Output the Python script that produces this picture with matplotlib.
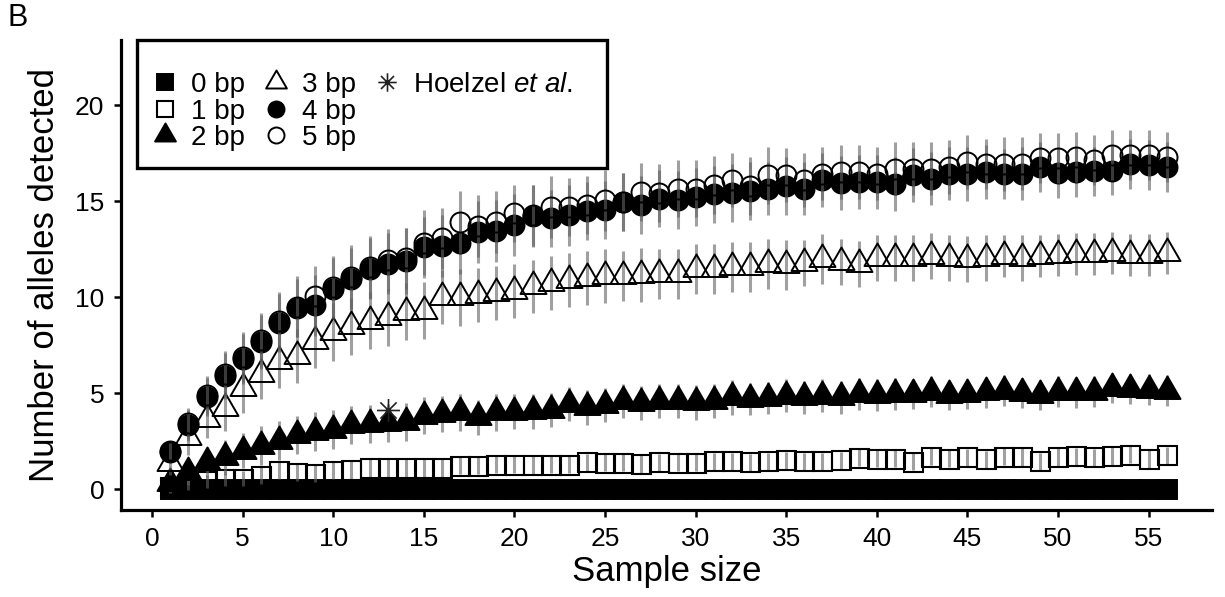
import matplotlib
matplotlib.use("Agg")
import matplotlib.pyplot as plt
from matplotlib.path import Path
from matplotlib.patches import Rectangle
from matplotlib.lines import Line2D

plt.rcParams['font.family'] = ['Liberation Sans', 'DejaVu Sans']
plt.rcParams['mathtext.fontset'] = 'custom'
plt.rcParams['mathtext.rm'] = 'Liberation Sans'
plt.rcParams['mathtext.it'] = 'Liberation Sans:italic'

# ---------------- data ----------------
sample_size = [1, 2, 3, 4, 5, 6, 7, 8, 9, 10, 11, 12, 13, 14, 15, 16, 17, 18, 19, 20,
               21, 22, 23, 24, 25, 26, 27, 28, 29, 30, 31, 32, 33, 34, 35, 36, 37, 38, 39, 40,
               41, 42, 43, 44, 45, 46, 47, 48, 49, 50, 51, 52, 53, 54, 55, 56]

bp0 = [0, 0, 0, 0, 0, 0, 0, 0, 0, 0, 0, 0, 0, 0, 0, 0, 0, 0, 0, 0,
       0, 0, 0, 0, 0, 0, 0, 0, 0, 0, 0, 0, 0, 0, 0, 0, 0, 0, 0, 0,
       0, 0, 0, 0, 0, 0, 0, 0, 0, 0, 0, 0, 0, 0, 0, 0]
bp1 = [0.10, 0.25, 0.40, 0.55, 0.55, 0.70, 0.95, 0.85, 0.80, 0.95, 1.00, 1.10, 1.10, 1.10,
       1.10, 1.10, 1.22, 1.22, 1.27, 1.27, 1.25, 1.27, 1.27, 1.40, 1.37, 1.37, 1.30, 1.40,
       1.37, 1.37, 1.45, 1.45, 1.40, 1.45, 1.50, 1.45, 1.45, 1.50, 1.64, 1.58, 1.58, 1.43,
       1.68, 1.58, 1.65, 1.55, 1.68, 1.67, 1.45, 1.67, 1.70, 1.65, 1.72, 1.80, 1.57, 1.75]
bp2 = [0.32, 0.91, 1.40, 1.65, 2.00, 2.27, 2.53, 2.82, 3.00, 3.10, 3.35, 3.38, 3.45, 3.50,
       3.83, 3.91, 4.00, 3.74, 4.00, 4.04, 4.05, 4.12, 4.43, 4.26, 4.38, 4.60, 4.48, 4.60,
       4.60, 4.52, 4.60, 4.78, 4.69, 4.75, 4.87, 4.78, 4.87, 4.78, 4.96, 4.90, 4.96, 4.96,
       5.08, 4.90, 4.96, 5.05, 5.13, 5.00, 4.90, 5.08, 5.05, 5.08, 5.27, 5.22, 5.18, 5.13]
bp3 = [1.35, 2.70, 3.65, 4.25, 5.25, 6.00, 6.69, 6.92, 7.73, 8.17, 8.48, 8.78, 8.95, 9.25,
       9.30, 9.99, 9.99, 10.10, 10.20, 10.34, 10.56, 10.73, 10.89, 11.00, 11.12, 11.12, 11.15, 11.20,
       11.20, 11.46, 11.46, 11.59, 11.59, 11.72, 11.67, 11.78, 11.98, 11.85, 11.72, 12.04, 12.04, 12.04,
       12.13, 12.04, 12.00, 12.06, 12.13, 12.04, 12.16, 12.20, 12.25, 12.25, 12.30, 12.20, 12.19, 12.30]
bp4 = [1.92, 3.33, 4.80, 5.90, 6.80, 7.67, 8.66, 9.44, 9.58, 10.45, 10.97, 11.49, 11.75, 11.88,
       12.59, 12.66, 12.83, 13.40, 13.45, 13.75, 14.22, 14.10, 14.27, 14.50, 14.53, 14.96, 14.79, 15.14,
       15.05, 15.22, 15.36, 15.43, 15.52, 15.66, 15.78, 15.66, 16.10, 15.95, 16.00, 16.00, 15.89, 16.35,
       16.18, 16.44, 16.40, 16.53, 16.44, 16.44, 16.79, 16.48, 16.53, 16.55, 16.60, 16.95, 16.88, 16.79]
bp5 = [1.98, 3.42, 4.90, 6.02, 6.90, 7.76, 8.75, 9.50, 10.05, 10.54, 11.03, 11.58, 11.93, 12.03,
       12.83, 13.06, 13.92, 13.70, 13.92, 14.36, 14.27, 14.70, 14.70, 14.79, 15.05, 14.96, 15.49, 15.43,
       15.66, 15.66, 15.83, 16.10, 15.78, 16.35, 16.35, 16.10, 16.44, 16.53, 16.53, 16.44, 16.70, 16.70,
       16.70, 16.79, 17.05, 16.93, 16.93, 16.96, 17.27, 17.27, 17.31, 17.17, 17.40, 17.40, 17.40, 17.31]

sd0 = [0, 0, 0, 0, 0, 0, 0, 0, 0, 0, 0, 0, 0, 0, 0, 0, 0, 0, 0, 0,
       0, 0, 0, 0, 0, 0, 0, 0, 0, 0, 0, 0, 0, 0, 0, 0, 0, 0, 0, 0,
       0, 0, 0, 0, 0, 0, 0, 0, 0, 0, 0, 0, 0, 0, 0, 0]
sd1 = [0.20, 0.30, 0.35, 0.40, 0.40, 0.45, 0.45, 0.45, 0.45, 0.45, 0.45, 0.45, 0.45, 0.45,
       0.45, 0.45, 0.45, 0.45, 0.45, 0.45, 0.45, 0.45, 0.45, 0.45, 0.45, 0.45, 0.45, 0.45,
       0.45, 0.45, 0.45, 0.45, 0.45, 0.45, 0.45, 0.45, 0.45, 0.45, 0.45, 0.45, 0.45, 0.45,
       0.45, 0.45, 0.45, 0.45, 0.45, 0.45, 0.45, 0.45, 0.45, 0.45, 0.45, 0.45, 0.45, 0.45]
sd2 = [0.50, 0.70, 0.80, 0.90, 0.90, 1.00, 1.00, 1.00, 1.00, 1.00, 1.00, 1.00, 1.00, 1.00,
       0.95, 0.95, 0.95, 0.90, 0.95, 0.90, 0.90, 0.90, 0.90, 0.90, 0.90, 0.90, 0.90, 0.90,
       0.90, 0.90, 0.90, 0.90, 0.85, 0.85, 0.85, 0.85, 0.85, 0.85, 0.85, 0.85, 0.85, 0.80,
       0.80, 0.80, 0.80, 0.80, 0.80, 0.80, 0.80, 0.80, 0.80, 0.80, 0.80, 0.80, 0.80, 0.80]
sd3 = [0.60, 0.90, 1.00, 1.20, 1.30, 1.30, 1.40, 1.40, 1.40, 1.50, 1.50, 1.50, 1.50, 1.50,
       1.50, 1.40, 1.50, 1.40, 1.40, 1.40, 1.40, 1.40, 1.40, 1.40, 1.40, 1.30, 1.40, 1.30,
       1.30, 1.30, 1.30, 1.30, 1.30, 1.30, 1.30, 1.20, 1.30, 1.20, 1.20, 1.20, 1.20, 1.20,
       1.20, 1.20, 1.20, 1.20, 1.10, 1.20, 1.10, 1.10, 1.10, 1.10, 1.10, 1.10, 1.10, 1.10]
sd4 = [0.40, 0.80, 1.00, 1.20, 1.30, 1.40, 1.50, 1.50, 1.60, 1.60, 1.60, 1.60, 1.60, 1.70,
       1.60, 1.60, 1.60, 1.60, 1.60, 1.60, 1.60, 1.50, 1.60, 1.50, 1.50, 1.50, 1.50, 1.50,
       1.50, 1.50, 1.50, 1.50, 1.50, 1.40, 1.50, 1.40, 1.40, 1.40, 1.40, 1.40, 1.40, 1.40,
       1.40, 1.40, 1.40, 1.40, 1.30, 1.40, 1.30, 1.30, 1.30, 1.30, 1.30, 1.30, 1.30, 1.30]
sd5 = [0.40, 0.80, 1.00, 1.20, 1.30, 1.40, 1.50, 1.60, 1.60, 1.60, 1.70, 1.60, 1.60, 1.60,
       1.70, 1.60, 1.60, 1.60, 1.60, 1.50, 1.60, 1.60, 1.50, 1.50, 1.60, 1.50, 1.50, 1.50,
       1.50, 1.50, 1.50, 1.40, 1.50, 1.50, 1.40, 1.40, 1.40, 1.40, 1.40, 1.40, 1.40, 1.40,
       1.40, 1.40, 1.40, 1.30, 1.40, 1.40, 1.30, 1.30, 1.30, 1.30, 1.30, 1.30, 1.30, 1.30]

series_labels = ['0 bp', '1 bp', '2 bp', '3 bp', '4 bp', '5 bp']
hoelzel_n = [13]
hoelzel_alleles = [4.1]
hoelzel_label = r'Hoelzel $\mathit{et\ al.}$'

x_ticks = [0, 5, 10, 15, 20, 25, 30, 35, 40, 45, 50, 55]
y_ticks = [0, 5, 10, 15, 20]

# ---------------- markers ----------------
tri = Path([(0, 1.555), (-1.347, -0.778), (1.347, -0.778), (0, 1.555)],
           [Path.MOVETO, Path.LINETO, Path.LINETO, Path.CLOSEPOLY])
d = 0.7071
star = Path([(-1, 0), (1, 0), (0, -1), (0, 1), (-d, -d), (d, d), (-d, d), (d, -d)],
            [Path.MOVETO, Path.LINETO] * 4)

PX = 72 / 100.0  # points per pixel at dpi 100
styles = [
    dict(marker='s', ms=19 * PX, mfc='black', mec='black', mew=1.4),
    dict(marker='s', ms=19 * PX, mfc='none', mec='black', mew=1.5),
    dict(marker=tri, ms=30 * PX, mfc='black', mec='black', mew=1.4),
    dict(marker=tri, ms=30 * PX, mfc='none', mec='black', mew=1.4),
    dict(marker='o', ms=20 * PX, mfc='black', mec='black', mew=1.4),
    dict(marker='o', ms=20 * PX, mfc='none', mec='black', mew=1.4),
]

fig = plt.figure(figsize=(12.25, 5.97), dpi=100)
ax = fig.add_axes([121 / 1225, 1 - 510 / 597, (1212 - 121) / 1225, (510 - 40) / 597])

series = [bp0, bp1, bp2, bp3, bp4, bp5]
sds = [sd0, sd1, sd2, sd3, sd4, sd5]
handles = []
z = 2
for vals, sd, st, lab in zip(series, sds, styles, series_labels):
    ax.errorbar(sample_size, vals, yerr=sd, fmt='none', ecolor=(0.38, 0.38, 0.38),
                alpha=0.6, elinewidth=2.2, capsize=0, zorder=z)
    h, = ax.plot(sample_size, vals, linestyle='none', label=lab, zorder=z + 1, **st)
    handles.append(h)
    z += 2

hh, = ax.plot(hoelzel_n, hoelzel_alleles, linestyle='none', marker=star, ms=23 * PX,
              mfc='none', mec='#222222', mew=1.2, label=hoelzel_label, zorder=z + 1)
handles.append(hh)

ax.set_xlim(-1.72, 58.5)
ax.set_ylim(-1.09, 23.4)
ax.set_xticks(x_ticks)
ax.set_yticks(y_ticks)
for s in ['top', 'right']:
    ax.spines[s].set_visible(False)
for s in ['left', 'bottom']:
    ax.spines[s].set_linewidth(2.3)
ax.tick_params(direction='out', length=5, width=1.8, pad=7, labelsize=19)

ax.set_xlabel('Sample size', fontsize=25)
ax.set_ylabel('Number of alleles detected', fontsize=25)
ax.xaxis.set_label_coords(0.5, -0.095)
ax.yaxis.set_label_coords(-0.055, 0.5)

# blank placeholders so the legend columns hold 3, 3 and 1 entries
blank = Line2D([], [], linestyle='none', marker=None)
leg_handles = handles + [blank, blank]
leg_labels = series_labels + [hoelzel_label, ' ', ' ']
leg = ax.legend(leg_handles, leg_labels, ncol=3, loc='upper left',
                bbox_to_anchor=(151 / 1225, 1 - 72 / 597), bbox_transform=fig.transFigure,
                frameon=False, fontsize=20, markerscale=0.8, handlelength=1.0,
                handletextpad=0.45, columnspacing=0.6, labelspacing=0.02,
                borderpad=0, borderaxespad=0)

fig.patches.append(Rectangle((137 / 1225, 1 - 168 / 597), (607 - 137) / 1225, (168 - 40) / 597,
                             transform=fig.transFigure, fill=False, lw=2.4, edgecolor='black',
                             zorder=10))

fig.text(18 / 1225, 1 - 18 / 597, 'B', ha='center', va='center', fontsize=22)

fig.savefig('out.png', dpi=100)
